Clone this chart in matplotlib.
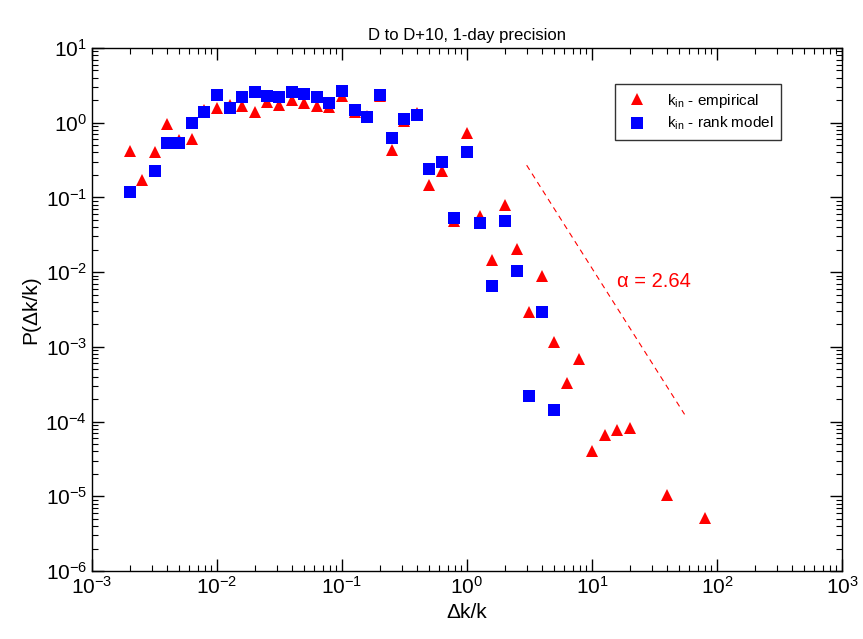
import numpy as np
import matplotlib
matplotlib.use("Agg")
import matplotlib.pyplot as plt

plt.rcParams['font.family'] = ['Liberation Sans', 'DejaVu Sans']
plt.rcParams['mathtext.fontset'] = 'custom'
plt.rcParams['mathtext.rm'] = 'Liberation Sans'
plt.rcParams['mathtext.it'] = 'Liberation Sans:italic'
plt.rcParams['mathtext.bf'] = 'Liberation Sans:bold'
plt.rcParams['mathtext.sf'] = 'Liberation Sans'

# empirical k_in distribution (red triangles)
emp_x = [0.0020, 0.0025, 0.0032, 0.0040, 0.0050, 0.0063, 0.0079, 0.0100, 0.0126, 0.0158,
         0.0200, 0.0251, 0.0316, 0.0398, 0.0501, 0.0631, 0.0794, 0.100, 0.126, 0.158,
         0.200, 0.251, 0.316, 0.398, 0.501, 0.631, 0.794, 1.00, 1.26, 1.58,
         2.00, 2.51, 3.16, 3.98, 5.01, 6.31, 7.94, 10.0, 12.6, 15.8,
         20.0, 39.8, 79.4]
emp_y = [0.418, 0.171, 0.409, 0.96, 0.58, 0.605, 1.50, 1.56, 1.70, 1.67,
         1.40, 1.91, 1.73, 2.01, 1.84, 1.67, 1.60, 2.30, 1.39, 1.23,
         2.27, 0.43, 1.05, 1.35, 0.147, 0.228, 0.048, 0.72, 0.056, 0.0145,
         0.079, 0.0204, 0.00295, 0.00895, 0.00117, 3.24e-4, 6.8e-4, 4.03e-5, 6.6e-5, 7.7e-5,
         8.3e-5, 1.04e-5, 5.06e-6]

# rank model (blue squares)
rank_x = [0.0020, 0.0032, 0.0040, 0.0050, 0.0063, 0.0079, 0.0100, 0.0126, 0.0158,
          0.0200, 0.0251, 0.0316, 0.0398, 0.0501, 0.0631, 0.0794, 0.100, 0.126, 0.158,
          0.200, 0.251, 0.316, 0.398, 0.501, 0.631, 0.794, 1.00, 1.26, 1.58,
          2.00, 2.51, 3.16, 3.98, 5.01]
rank_y = [0.118, 0.225, 0.54, 0.535, 0.99, 1.39, 2.35, 1.59, 2.23,
          2.60, 2.28, 2.23, 2.60, 2.42, 2.23, 1.84, 2.68, 1.48, 1.20,
          2.35, 0.62, 1.11, 1.27, 0.24, 0.30, 0.0535, 0.40, 0.046, 0.0065,
          0.049, 0.0104, 2.2e-4, 0.0029, 1.43e-4]

# power-law guide
alpha = 2.64
fit_x = np.array([3.0, 55.0])
fit_y = 0.27 * (fit_x / 3.0) ** (-alpha)

fig = plt.figure(figsize=(8.63, 6.39), dpi=100)
ax = fig.add_axes([0.1066, 0.1064, 0.8691, 0.8185])

ax.plot(emp_x, emp_y, linestyle='none', marker='^', color='#ff0000', markersize=9,
        markeredgewidth=0, label=r'k$_{\rm in}$ - empirical')
ax.plot(rank_x, rank_y, linestyle='none', marker='s', color='#0000ff', markersize=8.5,
        markeredgewidth=0, label=r'k$_{\rm in}$ - rank model')
ax.plot(fit_x, fit_y, color='#ff0000', linestyle=(0, (5, 4)), linewidth=0.8)
ax.text(15.8, 7.4e-3, '\u03b1 = 2.64', color='#ff0000', fontsize=14.5, va='center')

ax.set_xscale('log')
ax.set_yscale('log')
ax.set_xlim(1e-3, 1e3)
ax.set_ylim(1e-6, 1e1)

ax.tick_params(which='both', direction='in', top=True, right=True, labelsize=15)
ax.tick_params(which='major', length=8.5, width=1)
ax.tick_params(which='minor', length=4.3, width=0.8)
for s in ax.spines.values():
    s.set_linewidth(1)

ax.set_xlabel('\u0394k/k', fontsize=15)
ax.set_ylabel('P(\u0394k/k)', fontsize=15)
ax.set_title('D to D+10, 1-day precision', fontsize=12)

leg = ax.legend(loc='upper left', bbox_to_anchor=(0.697, 0.931), borderaxespad=0,
                fontsize=11, frameon=True, fancybox=False, edgecolor='black',
                handlelength=1.9, handletextpad=1.0, borderpad=0.5, labelspacing=0.35)
leg.get_frame().set_linewidth(1)

fig.savefig('out.png', dpi=100)
